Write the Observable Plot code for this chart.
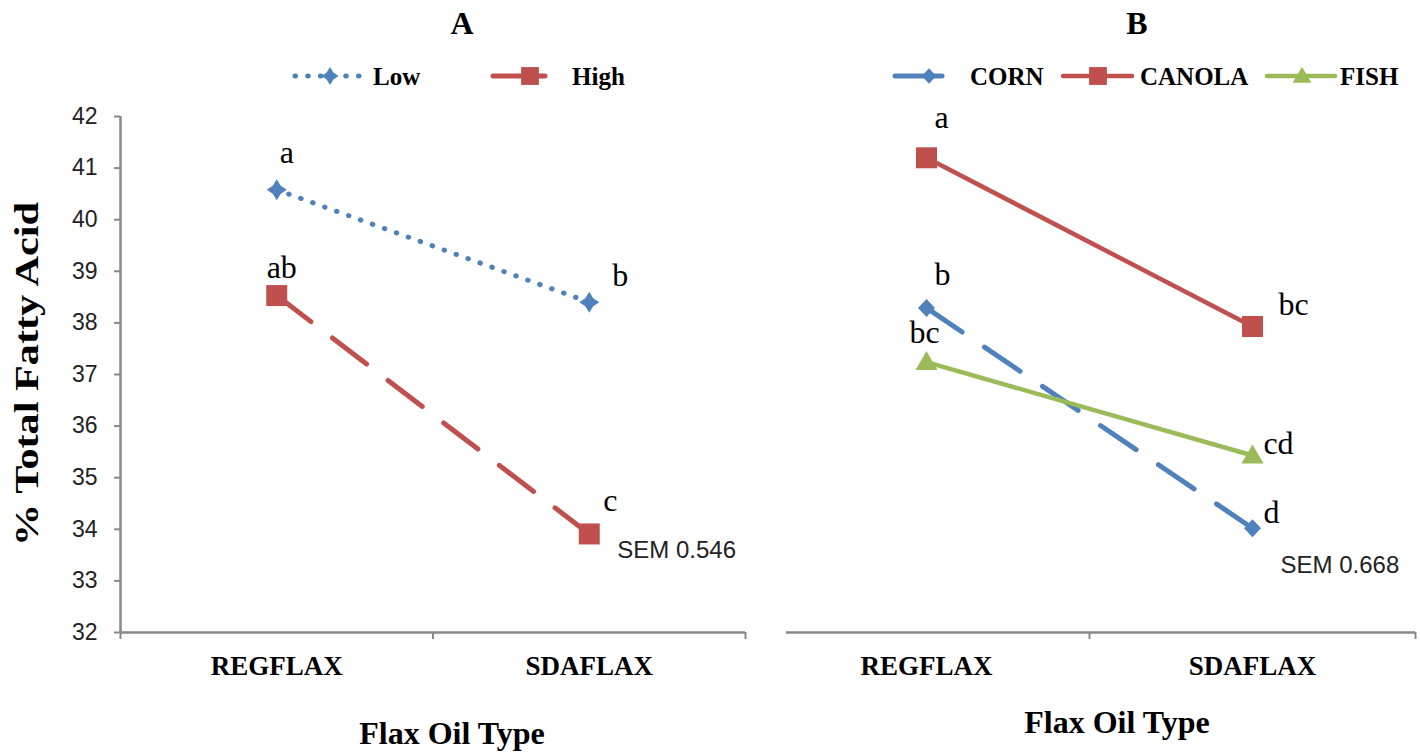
<!DOCTYPE html>
<html><head><meta charset="utf-8">
<script src="https://cdn.jsdelivr.net/npm/d3@7"></script>
<script src="https://cdn.jsdelivr.net/npm/@observablehq/plot@0.6"></script>
<style>
body{margin:0;background:#fff;}
#root{position:relative;width:1420px;height:753px;overflow:hidden;background:#fff;}
.serifb{font-family:"Liberation Serif","Times New Roman",serif;font-weight:bold;color:#000;white-space:nowrap;line-height:1;}
</style></head><body><div id="root"></div>
<script>
// ---------------- data ----------------
const flaxTypes = ["REGFLAX", "SDAFLAX"];
const yTicks = [32, 33, 34, 35, 36, 37, 38, 39, 40, 41, 42];
const panelTitles = ["A", "B"];
const yLabel = "% Total Fatty Acid";
const xLabel = "Flax Oil Type";

const seriesA = ["Low", "High"];
const lowValues = [40.58, 38.40];
const highValues = [38.53, 33.91];
const lowLetters = ["a", "b"];
const highLetters = ["ab", "c"];
const semA = 0.546;

const seriesB = ["CORN", "CANOLA", "FISH"];
const cornValues = [38.29, 34.02];
const canolaValues = [41.20, 37.93];
const fishValues = [37.24, 35.43];
const cornLetters = ["b", "d"];
const canolaLetters = ["a", "bc"];
const fishLetters = ["bc", "cd"];
const semB = 0.668;

// ---------------- styles ----------------
function symbolFrom(pts) {
  return {draw(ctx) {
    ctx.moveTo(pts[0][0], pts[0][1]);
    for (let i = 1; i < pts.length; i++) ctx.lineTo(pts[i][0], pts[i][1]);
    ctx.closePath();
  }};
}
const starPts = [[0,-10.5],[4,-4],[10,0],[4,4],[0,10.5],[-4,4],[-10,0],[-4,-4]];
const squarePts = [[-10.5,-10.5],[10.5,-10.5],[10.5,10.5],[-10.5,10.5]];
const diamondPts = [[0,-9],[8.5,0],[0,9],[-8.5,0]];
const trianglePts = [[0,-11],[11,8],[-11,8]];
const BLUE = "#4F81BD", RED = "#C0504D", GREEN = "#9BBB59";
const styles = {
  Low:    {color: BLUE,  dash: "0.5,12.2", width: 5,   cap: "round", pts: starPts,     legendDash: "0.5,12.2"},
  High:   {color: RED,   dash: "43,27",    width: 5,   cap: "round", pts: squarePts,   legendDash: null},
  CORN:   {color: BLUE,  dash: "43,27",    width: 5,   cap: "round", pts: diamondPts,  legendDash: null},
  CANOLA: {color: RED,   dash: null,       width: 4.5, cap: "round", pts: squarePts,   legendDash: null},
  FISH:   {color: GREEN, dash: null,       width: 4.5, cap: "round", pts: trianglePts, legendDash: null}
};
const letterOffsets = {
  Low: [[10,-27],[31,-16]],
  High: [[5,-18],[21,-23]],
  CORN: [[16,-23],[19,-5]],
  CANOLA: [[15,-30],[41,-12]],
  FISH: [[-2,-19],[26,-2]]
};
const AXIS = "#898989";
const SERIF = "Liberation Serif, Times New Roman, serif";
const SANS = "Liberation Sans, Arial, sans-serif";

const root = document.getElementById("root");
function place(el, left, top) {
  el.style.position = "absolute"; el.style.left = left + "px"; el.style.top = top + "px";
  root.appendChild(el); return el;
}
const xpos = d => flaxTypes.indexOf(d.flax) + 0.5;

function seriesMarks(name, values, letters) {
  const rows = flaxTypes.map((f, i) => ({series: name, flax: f, value: values[i], letter: letters[i]}));
  const st = styles[name];
  const marks = [
    Plot.line(rows, {x: xpos, y: "value", stroke: st.color, strokeWidth: st.width,
      strokeDasharray: st.dash || undefined, strokeLinecap: st.cap, strokeLinejoin: "round"}),
    Plot.dot(rows, {x: xpos, y: "value", symbol: symbolFrom(st.pts), fill: st.color, stroke: "none", r: 10})
  ];
  rows.forEach((r, i) => marks.push(Plot.text([r], {x: xpos, y: "value", text: "letter",
    dx: letterOffsets[name][i][0], dy: letterOffsets[name][i][1], lineAnchor: "bottom",
    textAnchor: "middle", fontFamily: SERIF, fontSize: 32, fill: "#000"})));
  return marks;
}
function xAxisMarks(tickPositions) {
  return [
    Plot.ruleY([32], {stroke: AXIS, strokeWidth: 2.5}),
    Plot.axisX({ticks: tickPositions, tickSize: 7, tickFormat: () => "", stroke: AXIS, strokeWidth: 2, label: null}),
    Plot.axisX({ticks: [0.5, 1.5], tickSize: 0, tickPadding: 23, tickFormat: v => flaxTypes[Math.floor(v)],
      fontFamily: SERIF, fontWeight: "bold", fontSize: 27, fill: "#000", label: null})
  ];
}

// ---------------- panel A ----------------
const plotA = Plot.plot({
  width: 760, height: 586, marginLeft: 120, marginRight: 15, marginTop: 20, marginBottom: 50,
  x: {domain: [0, 2], axis: null},
  y: {domain: [32, 42], axis: null},
  style: {background: "transparent", overflow: "visible"},
  marks: [
    Plot.axisY({ticks: yTicks, tickSize: 6, tickPadding: 17, stroke: AXIS, strokeWidth: 2, fill: "#222",
      fontFamily: SANS, fontSize: 23, label: null, tickFormat: d => String(d)}),
    Plot.ruleX([0], {stroke: AXIS, strokeWidth: 2.5}),
    ...xAxisMarks([0, 1, 2]),
    ...seriesMarks("Low", lowValues, lowLetters),
    ...seriesMarks("High", highValues, highLetters),
    Plot.text([semA], {x: () => 1.5, y: () => highValues[1], text: d => "SEM " + d, textAnchor: "start",
      lineAnchor: "bottom", dx: 28, dy: 24, fontFamily: SANS, fontSize: 24, fill: "#222"})
  ]
});
place(plotA, 0, 96);

// ---------------- panel B ----------------
const plotB = Plot.plot({
  width: 660, height: 586, marginLeft: 26, marginRight: 5, marginTop: 20, marginBottom: 50,
  x: {domain: [0, 2], range: [3, 655], axis: null},
  y: {domain: [32, 42], axis: null},
  style: {background: "transparent", overflow: "visible"},
  marks: [
    ...xAxisMarks([1, 2]),
    ...seriesMarks("CORN", cornValues, cornLetters),
    ...seriesMarks("CANOLA", canolaValues, canolaLetters),
    ...seriesMarks("FISH", fishValues, fishLetters),
    Plot.text([semB], {x: () => 1.5, y: () => cornValues[1], text: d => "SEM " + d, textAnchor: "start",
      lineAnchor: "bottom", dx: 28, dy: 45, fontFamily: SANS, fontSize: 24, fill: "#222"})
  ]
});
place(plotB, 760, 96);

// ---------------- titles & axis labels ----------------
function textDiv(txt, size, centerX, baseline, extra) {
  const d = document.createElement("div");
  d.className = "serifb"; d.textContent = txt; d.style.fontSize = size + "px";
  d.style.transform = "translateX(-50%)" + (extra || "");
  place(d, centerX, baseline - 0.8375 * size);
  return d;
}
textDiv(panelTitles[0], 32, 462, 34);
textDiv(panelTitles[1], 32, 1137, 34);
textDiv(xLabel, 32, 452, 744);
textDiv(xLabel, 32, 1117, 733);
const yl = document.createElement("div");
yl.className = "serifb"; yl.textContent = yLabel; yl.style.fontSize = "33px";
yl.style.transform = "translate(-50%,-50%) rotate(-90deg) scale(1.28,1)";
place(yl, 27, 374);

// ---------------- legends ----------------
const legendItems = [
  {name: "Low",    x0: 295,  x1: 363,  mx: 330,  tx: 373},
  {name: "High",   x0: 493,  x1: 545,  mx: 530,  tx: 572},
  {name: "CORN",   x0: 895,  x1: 942,  mx: 929,  tx: 970},
  {name: "CANOLA", x0: 1063, x1: 1132, mx: 1098, tx: 1140},
  {name: "FISH",   x0: 1267, x1: 1335, mx: 1302, tx: 1340}
];
const legendSvg = d3.create("svg").attr("width", 1420).attr("height", 44);
const LY = 20;
legendItems.forEach(it => {
  const st = styles[it.name];
  const g = legendSvg.append("g");
  g.append("line").attr("x1", it.x0).attr("x2", it.x1).attr("y1", LY).attr("y2", LY)
    .attr("stroke", st.color).attr("stroke-width", st.width).attr("stroke-linecap", "round")
    .attr("stroke-dasharray", st.legendDash);
  const p = d3.path(); symbolFrom(st.pts).draw(p);
  g.append("path").attr("d", p.toString()).attr("fill", st.color)
    .attr("transform", `translate(${it.mx},${LY}) scale(0.85)`);
  g.append("text").attr("x", it.tx).attr("y", LY + 8.5).text(it.name)
    .attr("font-family", SERIF).attr("font-weight", "bold").attr("font-size", 25).attr("fill", "#000");
});
place(legendSvg.node(), 0, 56);
</script></body></html>
